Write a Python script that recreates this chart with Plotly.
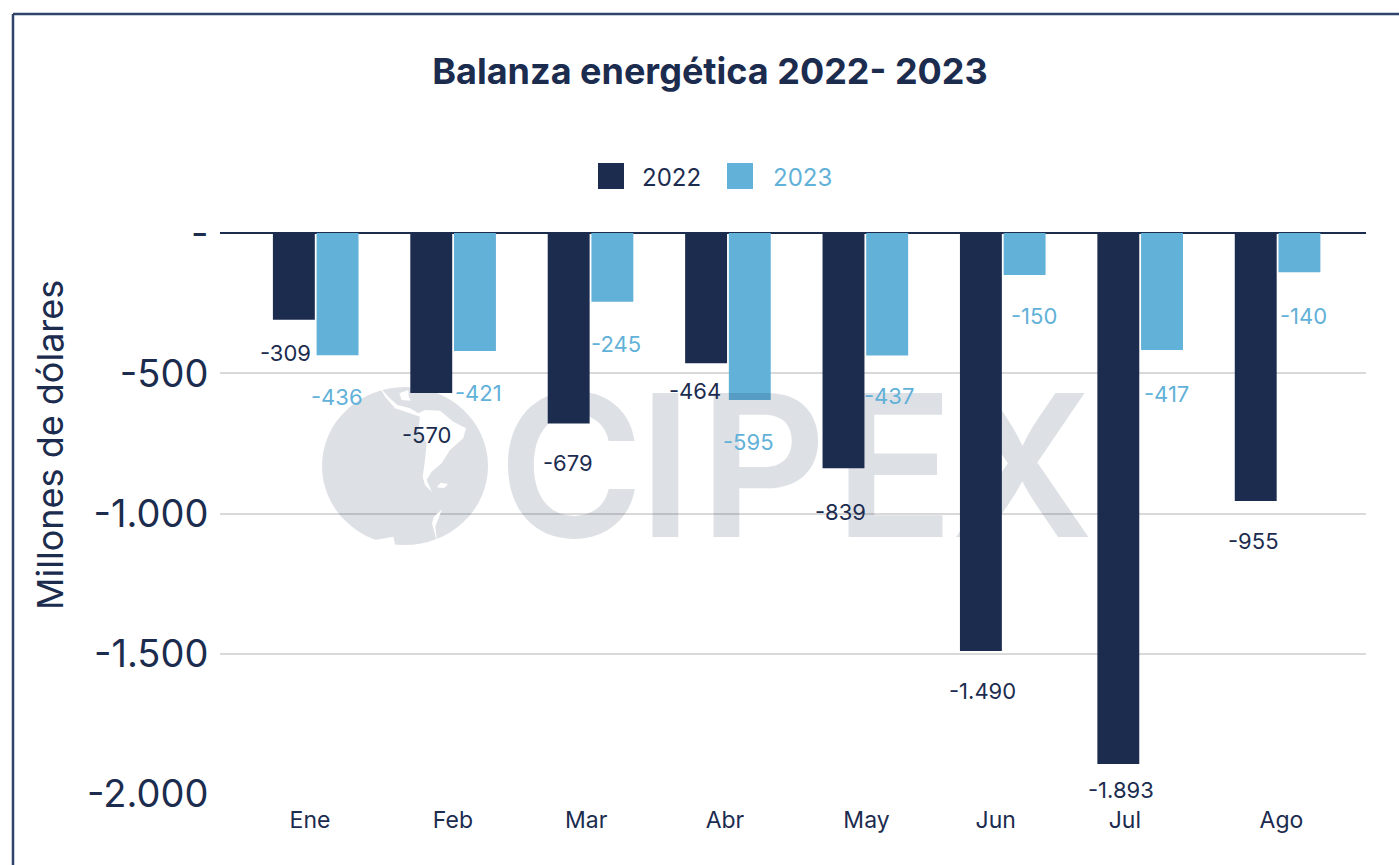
import plotly.graph_objects as go

meses = ["Ene", "Feb", "Mar", "Abr", "May", "Jun", "Jul", "Ago"]
valores_2022 = [-309, -570, -679, -464, -839, -1490, -1893, -955]
valores_2023 = [-436, -421, -245, -595, -437, -150, -417, -140]
y_ticks = [0, -500, -1000, -1500, -2000]
y_tick_text = ["-", "-500", "-1.000", "-1.500", "-2.000"]

# style / placement (not data)
NAVY = "#1C2C4F"
BLUE = "#62B1D8"
MARK = "rgba(28,44,79,0.15)"
FONT = "Inter"
W, H = 1399, 865
L, R, T, B = 220, 1366, 233, 794
x_pos = list(range(len(meses)))
x_range = [-0.695, 7.645]
tick_pos = [-0.04, 1.0, 1.97, 2.98, 4.01, 4.95, 5.89, 7.03]
dx_22 = [-9, -5, -1, -11, -3, 1, 2, -3]
dy_22 = [33, 42, 40, 28, 44, 40, 26, 40]
dx_23 = [0, 4, 4, -1, 3, 10, 5, 5]
dy_23 = [42, 42, 42, 42, 40, 41, 44, 44]
BAR_W = 0.305


def px(x):
    return (x - L) / (R - L)


def py(y):
    return (B - y) / (B - T)


def poly(points):
    # points in a 3x crop of the logo area
    pts = [(px(310 + a / 3), py(380 + b / 3)) for a, b in points]
    return "M" + "L".join(f"{a:.4f},{b:.4f}" for a, b in pts) + "Z"


fig = go.Figure()
fig.add_bar(x=x_pos, y=valores_2022, name="2022", marker_color=NAVY, width=BAR_W, offset=-0.31,
            marker_line_width=0)
fig.add_bar(x=x_pos, y=valores_2023, name="2023", marker_color=BLUE, width=BAR_W, offset=0.008,
            marker_line_width=0)

shapes = [
    dict(type="line", xref="paper", yref="paper", x0=px(13), x1=px(1399), y0=py(14), y1=py(14),
         line=dict(color="#2F436B", width=2.5)),
    dict(type="line", xref="paper", yref="paper", x0=px(13), x1=px(13), y0=py(14), y1=py(865),
         line=dict(color="#2F436B", width=2.5)),
    dict(type="circle", xref="paper", yref="paper", x0=px(322), x1=px(488), y0=py(387), y1=py(545),
         fillcolor=MARK, line_width=0, layer="above"),
    dict(type="rect", xref="paper", yref="paper", x0=px(598), x1=px(624), y0=py(163), y1=py(189),
         fillcolor=NAVY, line_width=0),
    dict(type="rect", xref="paper", yref="paper", x0=px(727), x1=px(753), y0=py(163), y1=py(189),
         fillcolor=BLUE, line_width=0),
]
continents = [
    [(208, 20), (235, 50), (262, 75), (300, 85), (325, 100), (345, 90), (390, 92), (430, 125), (468, 145),
     (460, 175), (420, 210), (395, 250), (365, 275), (350, 300), (366, 337), (345, 315), (338, 290),
     (345, 240), (350, 190), (325, 150), (330, 110), (300, 100), (255, 85), (225, 50)],
    [(268, 40), (295, 30), (296, 47), (302, 62), (275, 60)],
    [(380, 322), (392, 308), (414, 312), (402, 325)],
    [(396, 388), (372, 410), (366, 430), (382, 490), (376, 440)],
    [(182, 482), (250, 470), (256, 498), (210, 490)],
]
for c in continents:
    shapes.append(dict(type="path", xref="paper", yref="paper", path=poly(c), fillcolor="white",
                       line_width=0, layer="above"))

ann = []
# watermark letters first, so that the value labels sit on top
for letter, cx in zip("CIPEX", [571, 665, 763, 894, 1022]):
    ann.append(dict(text=letter, xref="paper", yref="paper", x=px(cx), y=py(465), showarrow=False,
                    xanchor="center", yanchor="middle",
                    font=dict(family=FONT, size=198, color=MARK, weight=600)))
fmt = lambda v: f"{v:,}".replace(",", ".")
for i in x_pos:
    ann.append(dict(text=fmt(valores_2022[i]), x=i - 0.155, y=valores_2022[i], xref="x", yref="y", showarrow=False,
                    xshift=dx_22[i], yshift=-dy_22[i], font=dict(family=FONT, size=22, color=NAVY)))
    ann.append(dict(text=fmt(valores_2023[i]), x=i + 0.155, y=valores_2023[i], xref="x", yref="y", showarrow=False,
                    xshift=dx_23[i], yshift=-dy_23[i], font=dict(family=FONT, size=22, color=BLUE)))
for name, cx, col in (("2022", 671, NAVY), ("2023", 802, BLUE)):
    ann.append(dict(text=name, xref="paper", yref="paper", x=px(cx), y=py(177), showarrow=False,
                    xanchor="center", yanchor="middle", font=dict(family=FONT, size=24, color=col)))
ann.append(dict(text="Millones de dólares", xref="paper", yref="paper", x=px(50), y=py(445), showarrow=False,
                textangle=-90, xanchor="center", yanchor="middle", font=dict(family=FONT, size=36, color=NAVY)))

fig.update_layout(
    width=W, height=H, autosize=False, showlegend=False, barmode="overlay",
    margin=dict(l=L, r=W - R, t=T, b=H - B, pad=0),
    paper_bgcolor="white", plot_bgcolor="white",
    font=dict(family=FONT, color=NAVY),
    title=dict(text="<b>Balanza energética 2022- 2023</b>", x=710 / W, xanchor="center", y=1 - 71 / H,
               yanchor="middle", font=dict(family=FONT, size=36, color=NAVY)),
    xaxis=dict(range=x_range, tickmode="array", tickvals=tick_pos, ticktext=meses, showgrid=False, zeroline=False,
               ticks="outside", ticklen=5, tickcolor="rgba(0,0,0,0)", showline=False,
               tickfont=dict(family=FONT, size=23, color=NAVY)),
    yaxis=dict(range=[-2000, 0], tickmode="array", tickvals=y_ticks, ticktext=y_tick_text,
               showgrid=True, gridcolor="#D9D9D9", gridwidth=2, zeroline=True, zerolinecolor=NAVY, zerolinewidth=2,
               ticks="outside", ticklen=3, tickcolor="rgba(0,0,0,0)", showline=False,
               tickfont=dict(family=FONT, size=38, color=NAVY)),
    shapes=shapes, annotations=ann,
)

fig.write_html("out.html", config={"displayModeBar": False}, post_script="document.body.style.margin='0';")
